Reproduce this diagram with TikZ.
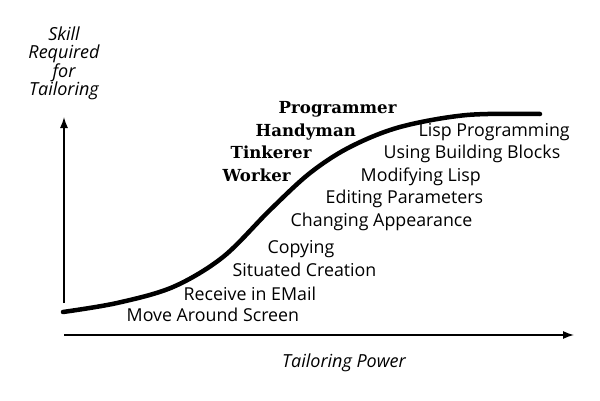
\documentclass[tikz,border=0pt]{standalone}
\usepackage{fontspec}
\setmainfont{Open Sans}
\newfontfamily\rolefont{DejaVu Serif}
\usetikzlibrary{arrows.meta}

\begin{document}
\begin{tikzpicture}[x=1pt, y=1pt, black, line width = 1.4pt,
    act/.style = {anchor = west, inner sep = 0pt, text height = 1.45ex, text depth = .3ex, font = \fontsize{17.8}{20}\selectfont},
    role/.style = {anchor = west, inner sep = 0pt, text height = 1.45ex, text depth = .3ex, font = \rolefont\bfseries\fontsize{16.6}{19}\selectfont},
    axlabel/.style = {inner sep = 0pt, font = \itshape\fontsize{18}{18}\selectfont},]

    \useasboundingbox (0,0) rectangle (600,400);

    \coordinate (O) at (64,65);
    \coordinate (Y0) at (64,97);
    \coordinate (Y) at (64,283);
    \coordinate (X) at (574,65);

    % axes
    \draw[-{Latex[length=11pt, width=8pt]}] (Y0) -- (Y);
    \draw[-{Latex[length=11pt, width=8pt]}] (O) -- (X);

    \node (YL) at (64,337) [axlabel, align = center] {Skill\\Required\\for\\Tailoring};
    \node (XL) at (344,37) [axlabel] {Tailoring Power};

    % the curve
    \draw[line width = 4.5pt, line cap = round] plot[smooth, tension = 0.55] coordinates
        {(63,88) (117,97) (173,113) (223,143) (270,190) (310,227) (350,253) (400,273) (467,285) (540,286)};

    % who tailors
    \node (R1) at (278,290) [role] {Programmer};
    \node (R2) at (255,267) [role] {Handyman};
    \node (R3) at (230,245) [role] {Tinkerer};
    \node (R4) at (222,222) [role] {Worker};

    % what they do
    \node (A1) at (418,267) [act] {Lisp Programming};
    \node (A2) at (383,245) [act] {Using Building Blocks};
    \node (A3) at (360,222) [act] {Modifying Lisp};
    \node (A4) at (325,200) [act] {Editing Parameters};
    \node (A5) at (290,177) [act] {Changing Appearance};
    \node (A6) at (267,150) [act] {Copying};
    \node (A7) at (232,127) [act] {Situated Creation};
    \node (A8) at (183,103) [act] {Receive in EMail};
    \node (A9) at (126,82)  [act] {Move Around Screen};

\end{tikzpicture}
\end{document}
